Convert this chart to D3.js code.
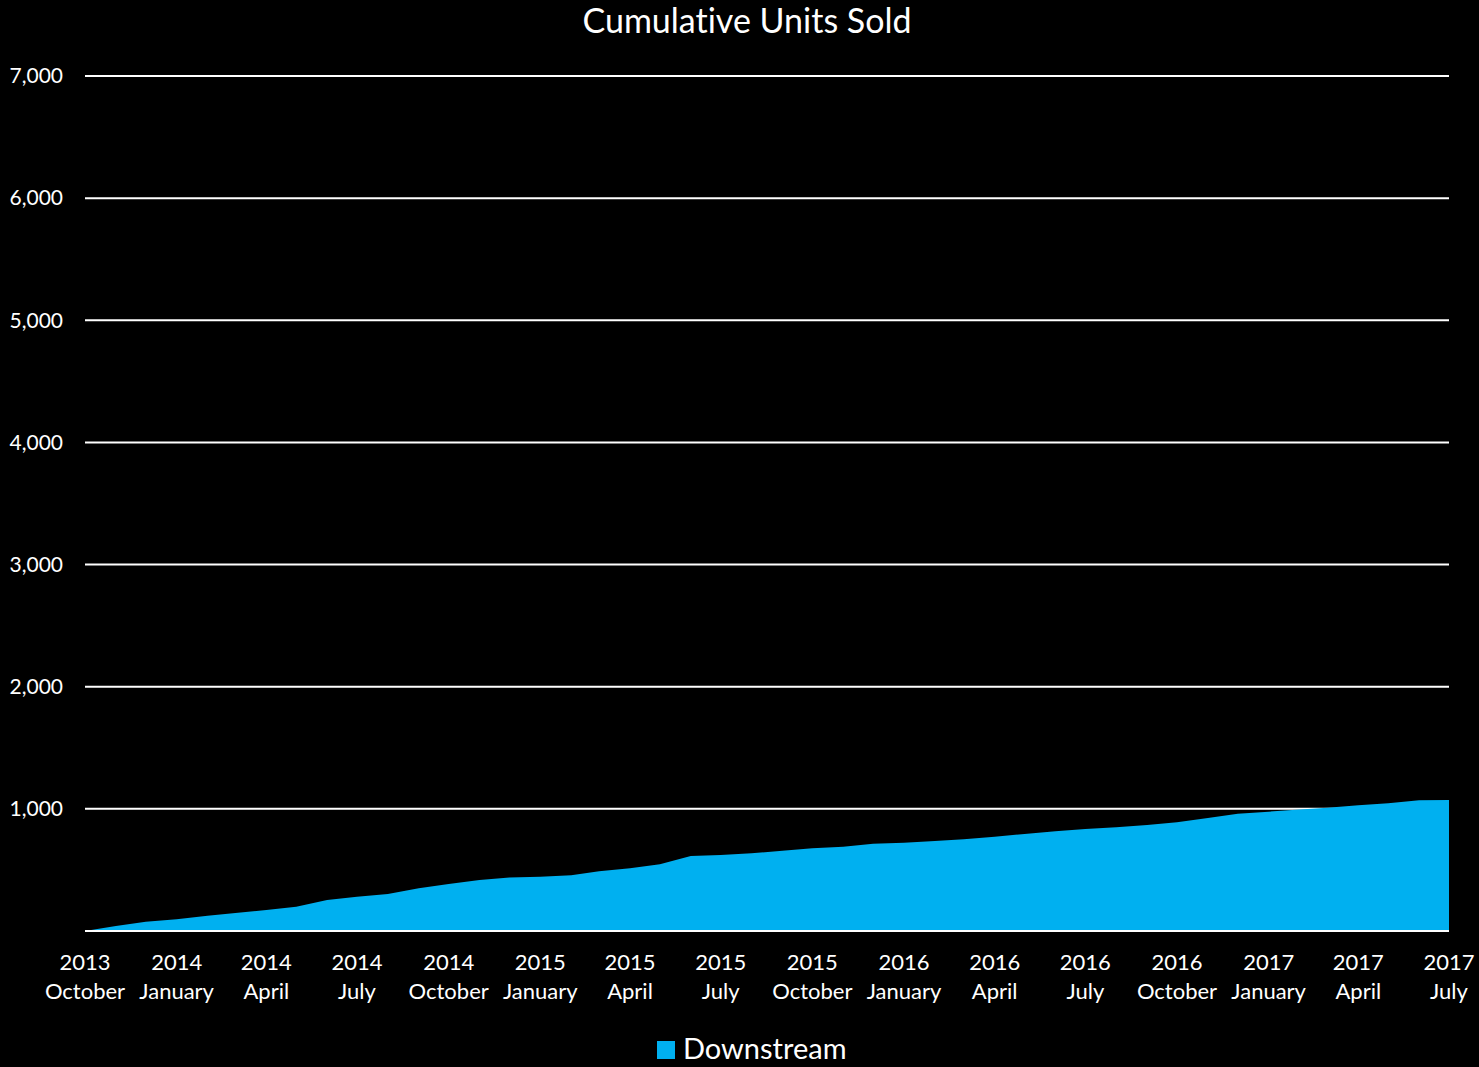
<!DOCTYPE html>
<html>
<head>
<meta charset="utf-8">
<script src="https://cdn.jsdelivr.net/npm/d3@7"></script>
<style>
  html, body { margin: 0; padding: 0; background: #000; }
  #chart { width: 1479px; height: 1067px; }
  text { font-variant-ligatures: none; }
</style>
</head>
<body>
<div id="chart"></div>
<script>
// Monthly data, Oct 2013 .. Jul 2017
const startMonth = new Date(2013, 9, 1);
const unitsSold = [
  0, 40, 76, 96, 125, 147, 172, 199, 254, 281, 303, 349, 385, 418, 439, 445,
  456, 489, 513, 546, 614, 622, 636, 658, 677, 690, 715, 723, 737, 751,
  772, 794, 816, 835, 849, 868, 890, 925, 960, 977, 994, 1010, 1029, 1046, 1070, 1073
];
const yTicks = [1000, 2000, 3000, 4000, 5000, 6000, 7000];
const seriesName = 'Downstream';
const chartTitle = 'Cumulative Units Sold';

const width = 1479;
const height = 1067;
const margin = {top: 76, left: 85, right: 30, bottom: 136};
const fontFamily = 'Lato, "Open Sans", sans-serif';
const areaColor = '#00b0f0';

const data = unitsSold.map((v, i) => ({
  date: d3.timeMonth.offset(startMonth, i),
  value: v
}));

const svg = d3.select('#chart')
  .append('svg')
  .attr('width', width)
  .attr('height', height)
  .style('background', '#000');

const xScale = d3.scaleTime()
  .domain(d3.extent(data, d => d.date))
  .range([margin.left, width - margin.right]);

const yScale = d3.scaleLinear()
  .domain([0, 7000])
  .range([height - margin.bottom, margin.top]);

// gridlines
svg.append('g')
  .selectAll('line')
  .data(yTicks)
  .enter()
  .append('line')
  .attr('x1', margin.left)
  .attr('x2', width - margin.right)
  .attr('y1', d => yScale(d))
  .attr('y2', d => yScale(d))
  .attr('stroke', '#fff')
  .attr('stroke-width', 2);

// area
const area = d3.area()
  .x(d => xScale(d.date))
  .y0(yScale(0))
  .y1(d => yScale(d.value));

svg.append('path')
  .datum(data)
  .attr('d', area)
  .attr('fill', areaColor);

// baseline
svg.append('line')
  .attr('x1', margin.left)
  .attr('x2', width - margin.right)
  .attr('y1', yScale(0))
  .attr('y2', yScale(0))
  .attr('stroke', '#fff')
  .attr('stroke-width', 2);

// y-axis labels
svg.append('g')
  .attr('transform', `translate(${margin.left - 22}, 0)`)
  .call(d3.axisLeft(yScale).tickValues(yTicks).tickSize(0).tickFormat(d3.format(',')))
  .call(g => g.select('.domain').remove())
  .selectAll('text')
  .attr('x', 0)
  .style('font-family', fontFamily)
  .style('font-size', '21px')
  .style('fill', '#fff');

// x-axis labels, every third month
const xTicks = data.filter((d, i) => i % 3 === 0).map(d => d.date);
const xTick = svg.append('g')
  .selectAll('g')
  .data(xTicks)
  .enter()
  .append('g')
  .attr('transform', d => `translate(${xScale(d)}, ${yScale(0)})`);

xTick.append('text')
  .attr('y', 39)
  .attr('text-anchor', 'middle')
  .style('font-family', fontFamily)
  .style('font-size', '22px')
  .style('fill', '#fff')
  .text(d => d3.timeFormat('%Y')(d));

xTick.append('text')
  .attr('y', 68)
  .attr('text-anchor', 'middle')
  .style('font-family', fontFamily)
  .style('font-size', '22px')
  .style('fill', '#fff')
  .text(d => d3.timeFormat('%B')(d));

// title
svg.append('text')
  .attr('x', 747)
  .attr('y', 33)
  .attr('text-anchor', 'middle')
  .style('font-family', fontFamily)
  .style('font-size', '34px')
  .style('fill', '#fff')
  .text(chartTitle);

// legend
const legend = svg.append('g')
  .attr('transform', 'translate(657, 1041)');

legend.append('rect')
  .attr('width', 18)
  .attr('height', 18)
  .attr('fill', areaColor);

legend.append('text')
  .attr('x', 26)
  .attr('y', 18)
  .style('font-family', fontFamily)
  .style('font-size', '29px')
  .style('fill', '#fff')
  .text(seriesName);
</script>
</body>
</html>
